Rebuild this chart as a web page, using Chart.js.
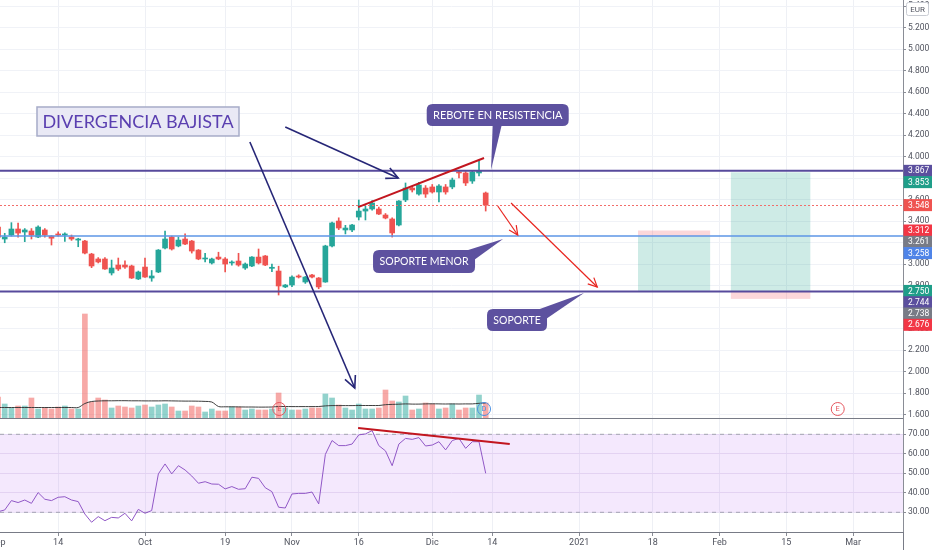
<!DOCTYPE html>
<html lang="es">
<head>
    <meta charset="UTF-8">
    <title>Divergencia bajista</title>
    <style>
        html, body {
            margin: 0;
            padding: 0;
            background-color: #ffffff;
        }
        #wrap {
            width: 932px;
            height: 550px;
        }
    </style>
    <script src="https://cdn.jsdelivr.net/npm/chart.js"></script>
</head>
<body>
    <div id="wrap"><canvas id="chart" width="932" height="550"></canvas></div>

    <script>
        // bar index 0 = 1 Oct 2020, one step per trading day; first bar is index -22
        const firstBar = -22;

        const openPrices = [
            3.344, 3.233, 3.270, 3.326, 3.298, 3.307, 3.251, 3.317, 3.260, 3.280,
            3.270, 3.251, 3.223, 3.214, 3.093, 3.047, 3.047, 2.917, 2.991, 2.991,
            2.982, 2.861, 2.972, 2.870, 2.926, 3.149, 3.251, 3.168, 3.233, 3.214,
            3.130, 3.047, 3.010, 3.065, 3.047, 3.010, 3.028, 2.963, 2.982, 3.065,
            3.075, 2.960, 2.935, 2.787, 2.805, 2.889, 2.833, 2.898, 2.870, 2.833,
            3.168, 3.400, 3.317, 3.317, 3.437, 3.493, 3.512, 3.512, 3.456, 3.419,
            3.363, 3.596, 3.707, 3.651, 3.707, 3.717, 3.670, 3.717, 3.717, 3.856,
            3.847, 3.772, 3.847, 3.661
        ];
        const highPrices = [
            3.370, 3.286, 3.385, 3.380, 3.330, 3.330, 3.355, 3.330, 3.265, 3.300,
            3.290, 3.270, 3.240, 3.220, 3.100, 3.060, 3.060, 3.037, 3.056, 3.030,
            2.990, 2.935, 3.056, 2.940, 3.135, 3.307, 3.260, 3.250, 3.280, 3.220,
            3.135, 3.100, 3.055, 3.110, 3.060, 3.030, 3.100, 3.010, 3.070, 3.140,
            3.080, 3.000, 2.980, 2.810, 2.890, 2.900, 2.885, 2.905, 2.875, 3.175,
            3.390, 3.430, 3.360, 3.370, 3.596, 3.540, 3.590, 3.530, 3.470, 3.430,
            3.590, 3.754, 3.720, 3.760, 3.730, 3.740, 3.740, 3.740, 3.800, 3.865,
            3.860, 3.870, 3.968, 3.670
        ];
        const lowPrices = [
            3.230, 3.198, 3.260, 3.250, 3.208, 3.233, 3.245, 3.250, 3.177, 3.260,
            3.210, 3.220, 3.161, 3.095, 2.966, 3.010, 2.950, 2.898, 2.940, 2.960,
            2.865, 2.855, 2.875, 2.840, 2.920, 3.140, 3.130, 3.160, 3.180, 3.102,
            3.040, 3.020, 3.000, 3.040, 2.926, 2.990, 2.980, 2.950, 2.975, 3.000,
            2.985, 2.930, 2.712, 2.780, 2.790, 2.870, 2.820, 2.870, 2.770, 2.830,
            3.160, 3.320, 3.280, 3.300, 3.410, 3.410, 3.500, 3.460, 3.420, 3.251,
            3.355, 3.580, 3.670, 3.640, 3.620, 3.660, 3.577, 3.650, 3.700, 3.800,
            3.730, 3.750, 3.820, 3.493
        ];
        const closePrices = [
            3.251, 3.251, 3.326, 3.288, 3.317, 3.270, 3.344, 3.270, 3.240, 3.270,
            3.280, 3.233, 3.233, 3.102, 2.982, 3.019, 2.954, 2.963, 2.954, 2.972,
            2.870, 2.926, 2.879, 2.889, 3.130, 3.233, 3.140, 3.223, 3.186, 3.121,
            3.047, 3.056, 3.047, 3.047, 3.000, 3.019, 2.991, 3.000, 3.065, 3.010,
            2.991, 2.970, 2.796, 2.805, 2.879, 2.879, 2.879, 2.879, 2.787, 3.168,
            3.382, 3.335, 3.335, 3.363, 3.493, 3.512, 3.568, 3.465, 3.428, 3.289,
            3.586, 3.707, 3.689, 3.735, 3.651, 3.670, 3.726, 3.670, 3.782, 3.847,
            3.754, 3.856, 3.865, 3.548
        ];
        // volume in thousands of shares
        const volumes = [
            210, 140, 100, 120, 120, 200, 90, 100, 90, 110,
            120, 90, 90, 1040, 160, 200, 180, 100, 120, 110,
            100, 120, 130, 110, 130, 140, 110, 70, 70, 120,
            110, 60, 90, 70, 70, 110, 110, 80, 90, 80,
            80, 90, 250, 100, 80, 80, 90, 100, 100, 240,
            200, 130, 100, 80, 140, 90, 90, 100, 280, 170,
            160, 220, 80, 90, 150, 140, 90, 100, 140, 80,
            100, 100, 230, 150
        ];
        const volumeMA = [
            105, 105, 105, 105, 105, 105, 105, 105, 105, 105,
            105, 105, 105, 145, 165, 170, 172, 172, 173, 173,
            172, 172, 171, 171, 171, 172, 171, 170, 169, 169,
            168, 166, 160, 115, 112, 112, 111, 110, 110, 109,
            109, 110, 115, 115, 114, 114, 114, 114, 115, 121,
            124, 124, 124, 124, 125, 125, 125, 125, 133, 136,
            138, 141, 139, 139, 141, 142, 141, 140, 141, 140,
            141, 141, 147, 150
        ];
        const rsiValues = [
            30.3, 31.2, 36.0, 35.0, 36.3, 34.6, 40.1, 36.7, 36.0, 37.7,
            38.0, 36.3, 35.5, 29.1, 24.9, 27.8, 25.7, 27.4, 27.1, 29.5,
            25.6, 31.5, 29.5, 30.9, 49.7, 54.8, 49.7, 53.9, 51.7, 48.6,
            44.9, 45.7, 44.5, 44.4, 42.0, 43.2, 41.8, 42.1, 48.0, 47.4,
            42.6, 40.6, 32.6, 32.2, 39.4, 39.7, 39.7, 40.4, 34.3, 59.7,
            66.8, 64.2, 64.2, 65.0, 69.7, 70.2, 71.9, 64.2, 61.5, 53.9,
            65.0, 67.9, 67.4, 68.3, 64.0, 64.5, 66.2, 62.0, 66.8, 67.9,
            62.8, 66.2, 66.2, 50.0
        ];

        const xTickIndex = [-22, -13, 0, 12, 22, 32, 43, 52, 65, 76, 86, 96, 106];
        const xTickLabels = ['Sep', '14', 'Oct', '19', 'Nov', '16', 'Dic', '14', '2021', '18', 'Feb', '15', 'Mar'];
        const priceTicks = [1.6, 1.8, 2.0, 2.2, 2.4, 2.6, 2.8, 3.0, 3.2, 3.4, 3.6, 3.8, 4.0, 4.2, 4.4, 4.6, 4.8, 5.0, 5.2, 5.4];
        const rsiTicks = [30, 40, 50, 60, 70];

        // drawn levels and price-scale badges
        const resistanceLevel = 3.867;
        const supportLevel = 2.744;
        const minorSupportLevel = 3.261;
        const badgeValues = [3.867, 3.853, 3.548, 3.312, 3.261, 3.258, 2.750, 2.744, 2.738, 2.676];
        const badgeColors = ['#5b4f9e', '#1f9e89', '#ef5350', '#f23645', '#787b86', '#4f84e8', '#1f9e89', '#5b4f9e', '#787b86', '#f23645'];

        // drawings in (bar index, price) coordinates
        const priceTrend = [[31.9, 3.530], [50.75, 3.986]];
        const rsiTrend = [[31.9, 73.2], [54.6, 65.0]];
        const navyArrows = [[[15.7, 4.135], [31.4, 1.847]], [[21.0, 4.275], [37.9, 3.800]]];
        const redArrows = [[[52.8, 3.540], [55.8, 3.270]], [[54.8, 3.568], [67.7, 2.786]]];
        const calloutTexts = ['REBOTE EN RESISTENCIA', 'SOPORTE MENOR', 'SOPORTE'];
        const calloutAt = [[52.8, 4.386], [41.77, 3.023], [55.69, 2.479]];
        const calloutTip = [[51.8, 3.875], [53.6, 3.233], [65.72, 2.730]];
        const titleText = 'DIVERGENCIA BAJISTA';
        const titleAt = [-1.05, 4.326];
        // short setup then long setup: [from, to, top, entry, bottom]
        const shortSetup = [73.8, 84.6, 3.312, 3.258, 2.750];
        const longSetup = [87.7, 99.6, 3.853, 2.744, 2.676];
        const eventIndex = [20.1, 50.75, 103.7];
        const eventLetters = ['E', 'D', 'E'];

        const X_MIN = -21.707;
        const X_MAX = 113.47;

        const barIdx = openPrices.map((_, k) => firstBar + k);
        const isUp = openPrices.map((o, k) => closePrices[k] >= o);
        const UP = '#26a69a', DOWN = '#ef5350';
        const candleColors = isUp.map(u => u ? UP : DOWN);
        const volumeColors = isUp.map(u => u ? 'rgba(38,166,154,0.5)' : 'rgba(239,83,80,0.5)');
        const FONT = "Roboto, 'Liberation Sans', sans-serif";

        function roundRectPath(ctx, x, y, w, h, r) {
            ctx.beginPath();
            ctx.moveTo(x + r, y);
            ctx.lineTo(x + w - r, y);
            ctx.quadraticCurveTo(x + w, y, x + w, y + r);
            ctx.lineTo(x + w, y + h - r);
            ctx.quadraticCurveTo(x + w, y + h, x + w - r, y + h);
            ctx.lineTo(x + r, y + h);
            ctx.quadraticCurveTo(x, y + h, x, y + h - r);
            ctx.lineTo(x, y + r);
            ctx.quadraticCurveTo(x, y, x + r, y);
            ctx.closePath();
        }

        function fitFont(ctx, text, maxW, size, family) {
            let s = size;
            ctx.font = s + 'px ' + family;
            while (ctx.measureText(text).width > maxW && s > 6) {
                s -= 0.25;
                ctx.font = s + 'px ' + family;
            }
        }

        function arrow(ctx, x1, y1, x2, y2, head) {
            ctx.beginPath();
            ctx.moveTo(x1, y1);
            ctx.lineTo(x2, y2);
            ctx.stroke();
            const a = Math.atan2(y2 - y1, x2 - x1);
            ctx.beginPath();
            ctx.moveTo(x2 - head * Math.cos(a - 0.45), y2 - head * Math.sin(a - 0.45));
            ctx.lineTo(x2, y2);
            ctx.lineTo(x2 - head * Math.cos(a + 0.45), y2 - head * Math.sin(a + 0.45));
            ctx.stroke();
        }

        // no label overhang padding, so the plot fills the canvas edge to edge
        function noPadding(s) {
            s.paddingLeft = 0;
            s.paddingRight = 0;
            s.paddingTop = 0;
            s.paddingBottom = 0;
        }

        const drawings = {
            id: 'drawings',
            afterDatasetsDraw(chart) {
                const {ctx, chartArea, scales} = chart;
                const X = v => scales.x.getPixelForValue(v);
                const P = v => scales.y.getPixelForValue(v);
                const R = v => scales.rsi.getPixelForValue(v);

                ctx.save();
                ctx.beginPath();
                ctx.rect(chartArea.left, scales.y.top, chartArea.right - chartArea.left, scales.y.bottom - scales.y.top);
                ctx.clip();

                // long / short position boxes
                [[shortSetup, false], [longSetup, true]].forEach(([b, long]) => {
                    const l = X(b[0]), r = X(b[1]);
                    const yT = P(b[2]), yM = P(b[3]), yB = P(b[4]);
                    ctx.fillStyle = long ? 'rgba(8,153,129,0.2)' : 'rgba(242,54,69,0.2)';
                    ctx.fillRect(l, yT, r - l, yM - yT);
                    ctx.fillStyle = long ? 'rgba(242,54,69,0.2)' : 'rgba(8,153,129,0.2)';
                    ctx.fillRect(l, yM, r - l, yB - yM);
                });

                // last close dotted line
                ctx.strokeStyle = '#f26d6a';
                ctx.lineWidth = 1;
                ctx.setLineDash([2, 2]);
                const yc = Math.round(P(closePrices[closePrices.length - 1])) + 0.5;
                ctx.beginPath();
                ctx.moveTo(chartArea.left, yc);
                ctx.lineTo(chartArea.right, yc);
                ctx.stroke();
                ctx.setLineDash([]);

                // horizontal levels
                ctx.strokeStyle = '#5d96e6';
                ctx.lineWidth = 1.5;
                ctx.beginPath();
                ctx.moveTo(chartArea.left, P(minorSupportLevel));
                ctx.lineTo(chartArea.right, P(minorSupportLevel));
                ctx.stroke();
                ctx.strokeStyle = '#574a9c';
                ctx.lineWidth = 2;
                [resistanceLevel, supportLevel].forEach(v => {
                    ctx.beginPath();
                    ctx.moveTo(chartArea.left, P(v));
                    ctx.lineTo(chartArea.right, P(v));
                    ctx.stroke();
                });

                // price trend line
                ctx.strokeStyle = '#c2161f';
                ctx.lineWidth = 2;
                ctx.beginPath();
                ctx.moveTo(X(priceTrend[0][0]), P(priceTrend[0][1]));
                ctx.lineTo(X(priceTrend[1][0]), P(priceTrend[1][1]));
                ctx.stroke();

                // arrows
                ctx.strokeStyle = '#262677';
                ctx.lineWidth = 1.6;
                navyArrows.forEach(a => arrow(ctx, X(a[0][0]), P(a[0][1]), X(a[1][0]), P(a[1][1]), 13));
                ctx.strokeStyle = '#e8251f';
                ctx.lineWidth = 1.2;
                redArrows.forEach(a => arrow(ctx, X(a[0][0]), P(a[0][1]), X(a[1][0]), P(a[1][1]), 10));

                // callouts
                const sizes = [[142, 22], [102, 23], [60, 22]];
                calloutTexts.forEach((text, k) => {
                    const cx = X(calloutAt[k][0]), cy = P(calloutAt[k][1]);
                    const w = sizes[k][0], h = sizes[k][1];
                    const l = cx - w / 2, t = cy - h / 2, r = cx + w / 2, b = cy + h / 2;
                    const tx = X(calloutTip[k][0]), ty = P(calloutTip[k][1]);
                    ctx.fillStyle = '#5d519f';
                    ctx.beginPath();
                    if (k === 0) {
                        ctx.moveTo(cx - 5, b - 1);
                        ctx.lineTo(cx + 4, b - 1);
                    } else {
                        ctx.moveTo(r - 10, t + 1);
                        ctx.lineTo(r - 1, t + 10);
                    }
                    ctx.lineTo(tx, ty);
                    ctx.closePath();
                    ctx.fill();
                    roundRectPath(ctx, l, t, w, h, 6);
                    ctx.fill();
                    ctx.fillStyle = '#ffffff';
                    fitFont(ctx, text, w - 12, 12, "Lato, 'Open Sans', sans-serif");
                    ctx.textAlign = 'center';
                    ctx.textBaseline = 'middle';
                    ctx.fillText(text, cx, cy + 0.5);
                });

                // title box
                const tcx = X(titleAt[0]), tcy = P(titleAt[1]);
                ctx.fillStyle = '#e9e9f5';
                ctx.fillRect(tcx - 101, tcy - 14.5, 202, 29);
                ctx.strokeStyle = '#a7acc8';
                ctx.lineWidth = 1.5;
                ctx.strokeRect(tcx - 101, tcy - 14.5, 202, 29);
                ctx.fillStyle = '#5a3fb0';
                fitFont(ctx, titleText, 192, 19, "Lato, 'Open Sans', sans-serif");
                ctx.textAlign = 'center';
                ctx.textBaseline = 'middle';
                ctx.fillText(titleText, tcx, tcy + 1);

                // event markers
                eventIndex.forEach((v, k) => {
                    const ex = X(v), ey = scales.y.bottom - 9;
                    const c = eventLetters[k] === 'D' ? '#4a90e2' : '#e5575f';
                    ctx.strokeStyle = c;
                    ctx.lineWidth = 1;
                    ctx.beginPath();
                    ctx.arc(ex, ey, 6.5, 0, Math.PI * 2);
                    ctx.stroke();
                    ctx.fillStyle = c;
                    ctx.font = '7.5px ' + FONT;
                    ctx.textAlign = 'center';
                    ctx.textBaseline = 'middle';
                    ctx.fillText(eventLetters[k], ex, ey + 0.5);
                });
                ctx.restore();

                // rsi divergence line
                ctx.save();
                ctx.beginPath();
                ctx.rect(chartArea.left, scales.rsi.top, chartArea.right - chartArea.left, scales.rsi.bottom - scales.rsi.top);
                ctx.clip();
                ctx.strokeStyle = '#c2161f';
                ctx.lineWidth = 2;
                ctx.beginPath();
                ctx.moveTo(X(rsiTrend[0][0]), R(rsiTrend[0][1]));
                ctx.lineTo(X(rsiTrend[1][0]), R(rsiTrend[1][1]));
                ctx.stroke();
                ctx.restore();
            },
            afterDraw(chart) {
                const {ctx, chartArea, scales} = chart;
                const P = v => scales.y.getPixelForValue(v);
                ctx.save();
                // pane separator and axis extension
                ctx.strokeStyle = '#787b86';
                ctx.lineWidth = 1;
                ctx.beginPath();
                ctx.moveTo(chartArea.left, Math.round(scales.y.bottom) + 0.5);
                ctx.lineTo(chartArea.right, Math.round(scales.y.bottom) + 0.5);
                ctx.moveTo(Math.round(chartArea.right) + 0.5, chartArea.bottom);
                ctx.lineTo(Math.round(chartArea.right) + 0.5, chart.height);
                ctx.stroke();

                // price badges, pushed down when they would overlap
                let prev = -Infinity;
                badgeValues.forEach((v, k) => {
                    let y = P(v);
                    if (y < prev + 11.3) y = prev + 11.3;
                    prev = y;
                    ctx.fillStyle = badgeColors[k];
                    ctx.fillRect(chartArea.right + 0.5, y - 6, chart.width - chartArea.right, 12);
                    ctx.fillStyle = '#ffffff';
                    ctx.font = '8.5px ' + FONT;
                    ctx.textAlign = 'left';
                    ctx.textBaseline = 'middle';
                    ctx.fillText(v.toFixed(3), chartArea.right + 5, y + 0.5);
                });

                // currency box
                ctx.fillStyle = '#ffffff';
                roundRectPath(ctx, 906.5, 2.5, 22, 13, 2);
                ctx.fill();
                ctx.strokeStyle = '#c9ccd3';
                ctx.stroke();
                ctx.fillStyle = '#50535e';
                ctx.font = '8px ' + FONT;
                ctx.textAlign = 'center';
                ctx.textBaseline = 'middle';
                ctx.fillText('EUR', 917.5, 9.5);
                ctx.restore();
            }
        };

        const pt = (arr) => barIdx.map((x, k) => ({x: x, y: arr[k]}));

        new Chart(document.getElementById('chart'), {
            type: 'bar',
            data: {
                datasets: [
                    {
                        type: 'bar',
                        data: pt(volumes),
                        yAxisID: 'vol',
                        backgroundColor: volumeColors,
                        barThickness: 5,
                        grouped: false,
                        order: 6
                    },
                    {
                        type: 'line',
                        data: pt(volumeMA),
                        yAxisID: 'vol',
                        borderColor: '#3d3d3d',
                        borderWidth: 1,
                        pointRadius: 0,
                        tension: 0.3,
                        order: 5
                    },
                    {
                        type: 'bar',
                        data: barIdx.map((x, k) => ({x: x, y: [lowPrices[k], highPrices[k]]})),
                        yAxisID: 'y',
                        backgroundColor: candleColors,
                        barThickness: 1,
                        grouped: false,
                        order: 2
                    },
                    {
                        type: 'bar',
                        data: barIdx.map((x, k) => ({x: x, y: [openPrices[k], closePrices[k]]})),
                        yAxisID: 'y',
                        backgroundColor: candleColors,
                        barThickness: 5,
                        minBarLength: 1,
                        grouped: false,
                        order: 1
                    },
                    {
                        type: 'line',
                        data: [{x: X_MIN, y: rsiTicks[4]}, {x: X_MAX, y: rsiTicks[4]}],
                        yAxisID: 'rsi',
                        borderColor: '#a3a6af',
                        borderWidth: 1,
                        borderDash: [4, 4],
                        pointRadius: 0,
                        fill: '+1',
                        backgroundColor: 'rgba(180,100,240,0.15)',
                        order: 4
                    },
                    {
                        type: 'line',
                        data: [{x: X_MIN, y: rsiTicks[0]}, {x: X_MAX, y: rsiTicks[0]}],
                        yAxisID: 'rsi',
                        borderColor: '#a3a6af',
                        borderWidth: 1,
                        borderDash: [4, 4],
                        pointRadius: 0,
                        fill: false,
                        order: 4
                    },
                    {
                        type: 'line',
                        data: pt(rsiValues),
                        yAxisID: 'rsi',
                        borderColor: '#9057c6',
                        borderWidth: 1,
                        pointRadius: 0,
                        fill: false,
                        order: 3
                    }
                ]
            },
            options: {
                responsive: false,
                animation: false,
                layout: { padding: 0 },
                plugins: {
                    legend: { display: false },
                    tooltip: { enabled: false }
                },
                scales: {
                    x: {
                        type: 'linear',
                        position: 'bottom',
                        offset: false,
                        min: X_MIN,
                        max: X_MAX,
                        afterBuildTicks: s => { s.ticks = xTickIndex.map(v => ({value: v})); },
                        afterFit: s => { s.height = 18; noPadding(s); },
                        ticks: {
                            autoSkip: false,
                            maxRotation: 0,
                            padding: 1,
                            color: '#50535e',
                            font: { size: 9, family: FONT },
                            callback: v => xTickLabels[xTickIndex.indexOf(v)]
                        },
                        grid: { offset: false, color: '#eef0f5', tickLength: 4, tickColor: '#8a8d96' },
                        border: { color: '#787b86' }
                    },
                    y: {
                        position: 'right',
                        stack: 'panes',
                        stackWeight: 418,
                        min: 1.568,
                        max: 5.456,
                        afterBuildTicks: s => { s.ticks = priceTicks.map(v => ({value: v})); },
                        afterFit: s => { s.width = 29; noPadding(s); },
                        ticks: {
                            autoSkip: false,
                            padding: 2,
                            color: '#50535e',
                            font: { size: 8.5, family: FONT },
                            callback: v => v.toFixed(3)
                        },
                        grid: { color: '#f0f2f7', tickLength: 3, tickColor: '#8a8d96' },
                        border: { color: '#8a8d96' }
                    },
                    rsi: {
                        position: 'right',
                        stack: 'panes',
                        stackWeight: 114,
                        min: 19.9,
                        max: 78.36,
                        afterBuildTicks: s => { s.ticks = rsiTicks.map(v => ({value: v})); },
                        afterFit: s => { s.width = 29; noPadding(s); },
                        ticks: {
                            autoSkip: false,
                            padding: 2,
                            color: '#50535e',
                            font: { size: 8.5, family: FONT },
                            callback: v => v.toFixed(2)
                        },
                        grid: { color: '#ebe6f3', tickLength: 3, tickColor: '#8a8d96' },
                        border: { color: '#8a8d96' }
                    },
                    vol: {
                        position: 'left',
                        display: false,
                        min: -1140,
                        max: 4180,
                        afterFit: s => { noPadding(s); }
                    }
                }
            },
            plugins: [drawings]
        });
    </script>
</body>
</html>
